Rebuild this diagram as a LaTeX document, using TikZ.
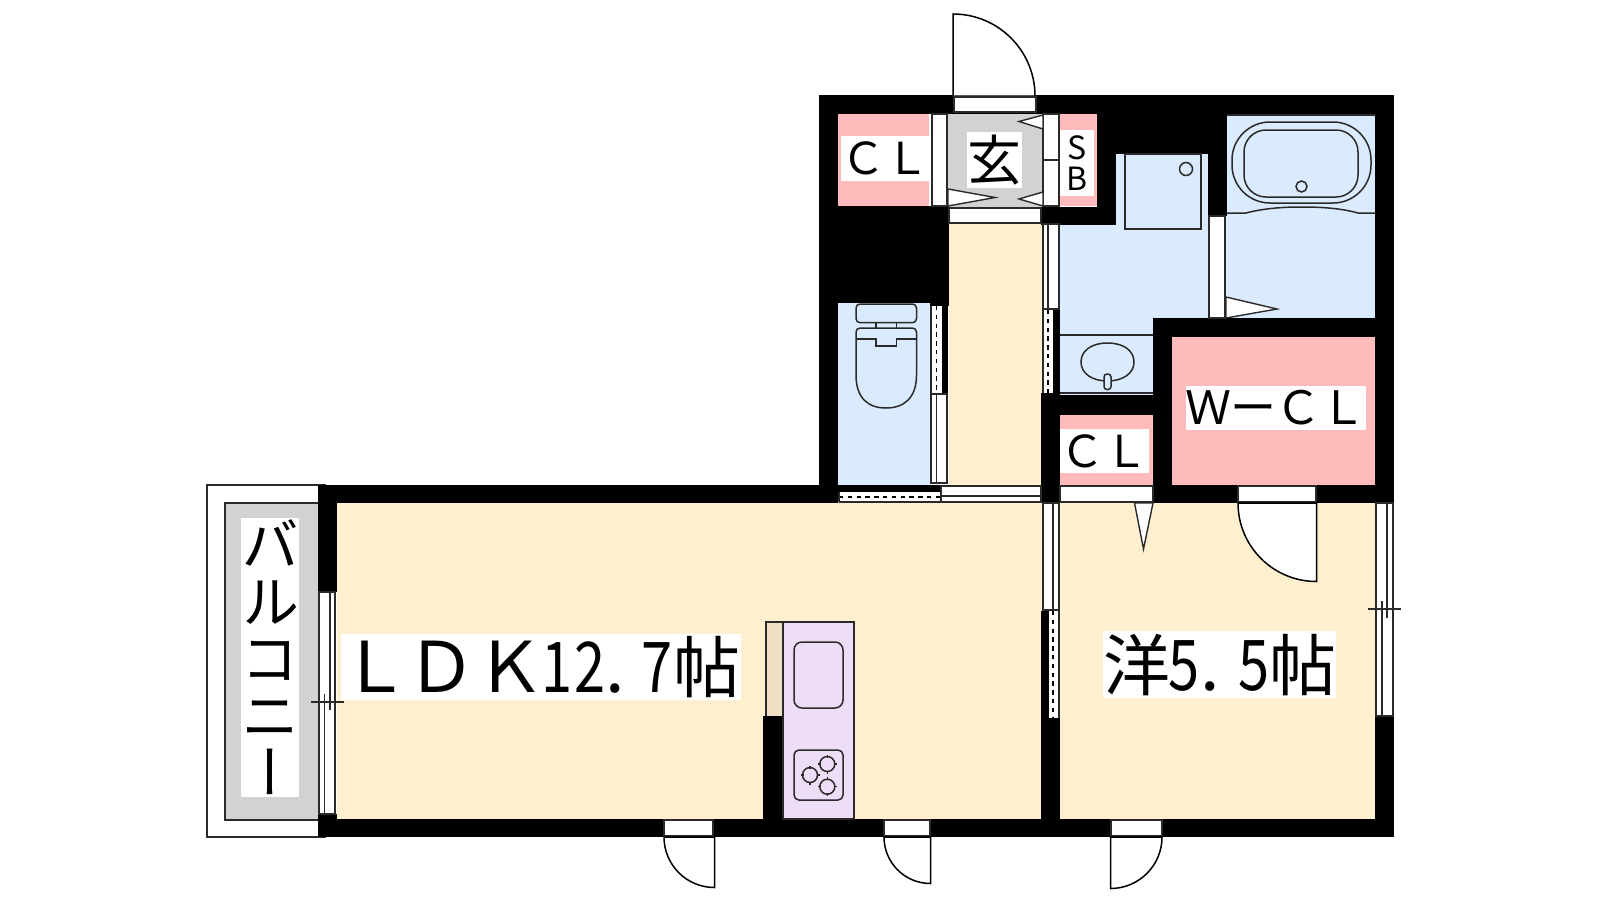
\documentclass[tikz,border=0pt]{standalone}
\usepackage{fontspec}
\newfontfamily\jp{Noto Sans CJK JP}
\newfontfamily\jpv[RawFeature=+vert]{Noto Sans CJK JP}
\newcommand\jpsize[2]{\fontsize{#1pt}{#2pt}\selectfont}
\newcommand\cb[2]{\makebox[#1pt][c]{#2}}
\newcommand\dg[1]{\scalebox{0.8}[1]{#1}}
\definecolor{floorc}{HTML}{FEF0CF}
\definecolor{wetc}{HTML}{DAEBFF}
\definecolor{pinkc}{HTML}{FFBBBB}
\definecolor{greyc}{HTML}{D2D2D2}
\definecolor{lilacc}{HTML}{EEDDF7}
\definecolor{tanc}{HTML}{F0DEC5}
\definecolor{linec}{HTML}{2A2A2A}
\tikzset{
  wall/.style={fill=black},
  wframe/.style={fill=white,draw=linec,line width=0.7pt},
  fixture/.style={draw=linec,line width=0.75pt},
  rail/.style={draw=linec,line width=0.7pt},
  dashrail/.style={draw=black,line width=0.9pt,dash pattern=on 2.2pt off 2.2pt},
  doorleaf/.style={fill=white,draw=black,line width=0.75pt},
  whitelabel/.style={fill=white,inner sep=0pt,outer sep=0pt,text=black}
}
\begin{document}
\begin{tikzpicture}[x=0.5pt,y=-0.5pt]
\useasboundingbox (0,0) rectangle (1600,900);
\fill[white] (0,0) rectangle (1600,900);
% balcony
\draw[fill=white,draw=linec,line width=0.7pt] (207,485) rectangle (325,837);
\draw[fill=greyc,draw=linec,line width=0.8pt] (225,503) rectangle (322,820);
% floors
\fill[floorc] (337,503) rectangle (1041,819);
\fill[floorc] (1041,503) rectangle (1375,819);
\fill[floorc] (949,224) rectangle (1043,486);
\fill[wetc] (838,303) rectangle (930,485);
\fill[wetc] (1059,225) rectangle (1153,395);
\fill[wetc] (1116,154) rectangle (1208,318);
\fill[wetc] (1208,216) rectangle (1227,318);
\fill[wetc] (1227,114) rectangle (1375,318);
\fill[pinkc] (838,114) rectangle (929,206);
\fill[pinkc] (1060,114) rectangle (1097,206);
\fill[pinkc] (1060,415) rectangle (1153,485);
\fill[pinkc] (1172,337) rectangle (1375,485);
\fill[greyc] (948,114) rectangle (1043,207);
% walls
\fill[wall] (819,95) rectangle (1394,114);
\fill[wall] (819,95) rectangle (838,503);
\fill[wall] (819,206) rectangle (949,303);
\fill[wall] (930,303) rectangle (949,306);
\fill[wall] (318,485) rectangle (838,503);
\fill[wall] (318,485) rectangle (337,592);
\fill[wall] (318,814) rectangle (337,837);
\fill[wall] (318,819) rectangle (1394,837);
\fill[wall] (1375,95) rectangle (1394,503);
\fill[wall] (1375,716) rectangle (1394,837);
\fill[wall] (1041,207) rectangle (1116,225);
\fill[wall] (1097,95) rectangle (1116,225);
\fill[wall] (1097,95) rectangle (1227,154);
\fill[wall] (1208,95) rectangle (1227,216);
\fill[wall] (1041,393) rectangle (1060,503);
\fill[wall] (1041,395) rectangle (1153,415);
\fill[wall] (1153,318) rectangle (1375,337);
\fill[wall] (1153,318) rectangle (1172,503);
\fill[wall] (1153,485) rectangle (1394,503);
\fill[wall] (1041,718) rectangle (1060,837);
\fill[wall] (838,485) rectangle (1041,492);
% frames: entry
\draw[doorleaf] (953,96) -- (953,14) arc[start angle=-90,end angle=0,radius=82] -- cycle;
\draw[wframe] (954,97) rectangle (1036,112);
\draw[wframe] (932,114) rectangle (947,206);
\draw[wframe] (1043,114) rectangle (1059,160);
\draw[wframe] (1043,160) rectangle (1059,206);
\draw[wframe] (949,208) rectangle (1041,223);
\draw[wframe] (948,189) -- (995,197.5) -- (948,206) -- cycle;
\draw[wframe] (1043,115) -- (1019,121.5) -- (1043,129) -- cycle;
\draw[wframe] (1043,192) -- (1019,199) -- (1043,206) -- cycle;
% WC door
\fill[white] (931,306) rectangle (942,394);
\fill[black] (942,306) rectangle (948,394);
\draw[rail] (931,306) -- (931,394);
\draw[dashrail] (936.5,306) -- (936.5,394);
\draw[wframe] (931,394) rectangle (947,483);
\draw[rail] (936.5,394) -- (936.5,483);
% washroom door
\draw[wframe] (1043,224) rectangle (1059,309);
\draw[rail] (1048,224) -- (1048,309);
\fill[white] (1043,310) rectangle (1053,393);
\fill[black] (1053,310) rectangle (1060,393);
\draw[rail] (1043,310) -- (1043,393);
\draw[dashrail] (1048,310) -- (1048,393);
% bath door
\draw[wframe] (1209,216) rectangle (1225,318);
\draw[wframe] (1226,297) -- (1277,309) -- (1226,318) -- cycle;
% LDK top sliding doors
\fill[white] (839,492) rectangle (940,502);
\draw[rail] (839,502) -- (940,502);
\draw[dashrail] (839,497) -- (940,497);
\draw[rail] (839,492) -- (839,502);
\draw[wframe] (941,486) rectangle (1041,502);
\draw[rail] (941,496) -- (1041,496);
\draw[wframe] (1060,486) rectangle (1153,502);
\draw[wframe] (1134.5,503) -- (1143.5,549) -- (1153,503) -- cycle;
% WCL door
\draw[wframe] (1238,486) rectangle (1316,502);
\draw[doorleaf] (1316.5,503) -- (1238,503) arc[start angle=180,end angle=90,radius=78.5] -- cycle;
% partition LDK / room
\draw[wframe] (1043,503) rectangle (1059,610);
\draw[rail] (1053,503) -- (1053,610);
\fill[black] (1041,611) rectangle (1049,718);
\fill[white] (1049,611) rectangle (1059,718);
\draw[rail] (1059,611) -- (1059,718);
\draw[dashrail] (1053,611) -- (1053,718);
% balcony window
\draw[wframe] (319,592) rectangle (335,814);
\draw[rail] (330,592) -- (330,710);
\draw[rail] (324.5,694) -- (324.5,814);
\draw[rail] (311,702) -- (344,702);
% right window
\draw[wframe] (1376,503) rectangle (1393,716);
\draw[rail] (1387,503) -- (1387,618);
\draw[rail] (1382,601) -- (1382,716);
\draw[rail] (1368,609) -- (1401,609);
% bottom doors
\draw[wframe] (664,820) rectangle (713,836);
\draw[doorleaf] (714.5,837) -- (664,837) arc[start angle=180,end angle=90,radius=50.5] -- cycle;
\draw[wframe] (884,820) rectangle (930,836);
\draw[doorleaf] (930.5,837) -- (884,837) arc[start angle=180,end angle=90,radius=46.5] -- cycle;
\draw[wframe] (1111,820) rectangle (1162,836);
\draw[doorleaf] (1110.5,837) -- (1162,837) arc[start angle=0,end angle=90,radius=51.5] -- cycle;
% washer
\draw[fixture] (1125,154) rectangle (1201,229);
\draw[fixture] (1186,169) circle[radius=6.5];
% bathtub
\draw[fixture] (1227,115) -- (1375,115);
\draw[fixture,rounded corners=19pt] (1232,122) rectangle (1371,203);
\draw[fixture,rounded corners=11pt] (1244,130) rectangle (1358,197);
\draw[fixture] (1301.5,186.5) circle[radius=5.5];
\draw[fixture] (1227,213) -- (1246,213) .. controls (1265,208) and (1285,207) .. (1301,207) .. controls (1320,207) and (1340,208) .. (1358,213) -- (1375,213);
% basin
\draw[fixture] (1060,335) -- (1153,335);
\draw[fixture] (1060,393) -- (1153,393);
\draw[fixture] (1107.5,343) .. controls (1124,343) and (1134,351) .. (1134,362) .. controls (1134,374) and (1122,381) .. (1107.5,381) .. controls (1093,381) and (1081,374) .. (1081,362) .. controls (1081,351) and (1091,343) .. (1107.5,343);
\draw[fixture,fill=wetc,rounded corners=1.5pt] (1104,389.5) -- (1104,374) -- (1111,374) -- (1111,389.5) -- cycle;
% toilet
\draw[fixture,rounded corners=2pt] (856,304) rectangle (916.5,322.7);
\draw[fixture] (876,323) -- (876,328) (896.5,323) -- (896.5,328);
\draw[fixture,rounded corners=2pt] (856,339) -- (856,328) -- (916.5,328) -- (916.5,339);
\draw[fixture] (856,339) -- (876,339) -- (876,346) -- (896.5,346) -- (896.5,339) -- (916.5,339);
\draw[fixture] (856,339) -- (856,375) .. controls (856,398) and (868,408) .. (886,408) .. controls (904,408) and (916.5,398) .. (916.5,375) -- (916.5,339);
% kitchen
\draw[fill=tanc,draw=linec,line width=0.7pt] (766,622) rectangle (783,733);
\draw[fill=lilacc,draw=linec,line width=0.8pt] (783,622) rectangle (854,819);
\fill[wall] (763,716) rectangle (782,819);
\draw[fixture,rounded corners=4pt] (794,642) rectangle (843,708);
\draw[fixture,rounded corners=2.5pt] (794,750) rectangle (843,800);
\foreach \bx/\by in {827.3/764,810/775,827.3/786.7}{
  \draw[fixture] (\bx,\by) circle[radius=7.5];
  \draw[fixture,line width=0.6pt] (\bx-9.5,\by) -- (\bx-6.5,\by) (\bx+6.5,\by) -- (\bx+9.5,\by) (\bx,\by-9.5) -- (\bx,\by-6.5) (\bx,\by+6.5) -- (\bx,\by+9.5);
}
% labels
\node[whitelabel,font=\jp\jpsize{22}{22},minimum width=44pt,minimum height=22.5pt] (cl1) at (885,158.5) {\cb{22}{Ｃ}\cb{22}{Ｌ}};
\node[whitelabel,font=\jp\jpsize{27}{27},minimum width=27.5pt,minimum height=28pt] (gen) at (994.5,160) {玄};
\node[whitelabel,font=\jp\jpsize{16}{15.5},minimum width=17pt,minimum height=33pt,align=center] (sb) at (1077,163) {S\\B};
\node[whitelabel,font=\jp\jpsize{22}{22},minimum width=44.5pt,minimum height=22pt] (cl2) at (1104.5,451) {\cb{22}{Ｃ}\cb{22}{Ｌ}};
\node[whitelabel,font=\jp\jpsize{23}{23},minimum width=89pt,minimum height=22pt] (wcl) at (1276,408) {\cb{22.5}{Ｗ}\cb{22.5}{ー}\cb{22.5}{Ｃ}\cb{22.5}{Ｌ}};
\node[whitelabel,font=\jpv\jpsize{29}{28.5},minimum width=28pt,minimum height=139.5pt,align=center] (bal) at (270,657.5) {バ\\ル\\コ\\ニ\\ー};
\node[whitelabel,font=\jp\jpsize{35}{35},minimum width=200pt,minimum height=33pt] (ldk) at (541,667) {\cb{34}{Ｌ}\cb{32}{Ｄ}\cb{37}{Ｋ}\cb{10}{\dg{1}}\cb{23}{\dg{2}}\cb{2}{.}\cb{40}{\dg{7}}\cb{10}{\jpsize{33.5}{33.5}帖}\hspace{12pt}\null};
\node[whitelabel,font=\jp\jpsize{35}{35},minimum width=116.5pt,minimum height=33.5pt] (yo) at (1219.5,664.5) {\cb{33.5}{\jpsize{33.5}{33.5}洋}\cb{14}{\dg{5}}\cb{12}{.}\cb{32}{\dg{5}}\cb{17}{\jpsize{33.5}{33.5}帖}\hspace{8pt}\null};
\end{tikzpicture}
\end{document}
